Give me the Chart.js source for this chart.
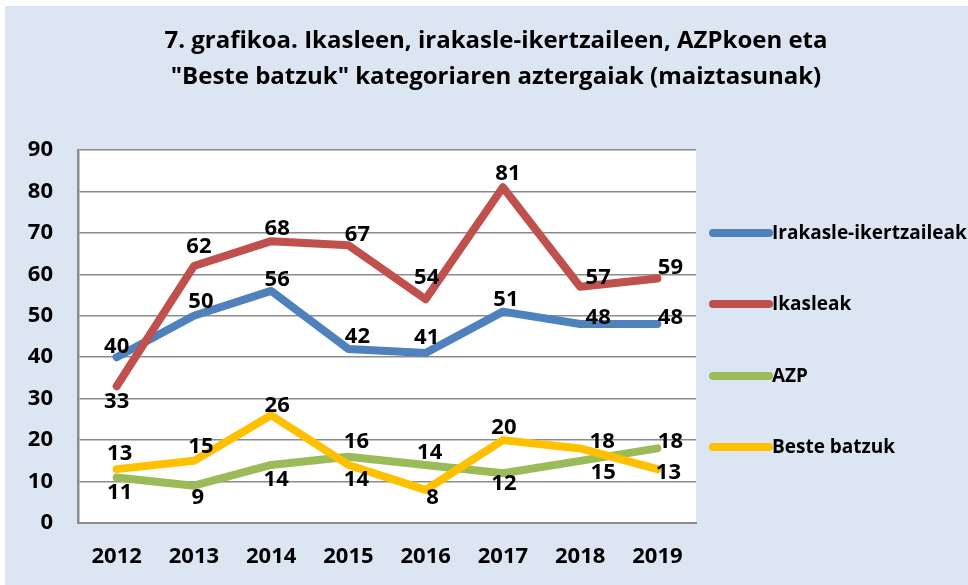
<!DOCTYPE html>
<html>
<head>
<meta charset="utf-8">
<script src="https://cdn.jsdelivr.net/npm/chart.js@4/dist/chart.umd.min.js"></script>
<style>
  html, body { margin: 0; padding: 0; background: #fff; }
  #wrap { width: 968px; height: 585px; position: relative; }
</style>
</head>
<body>
<div id="wrap"><canvas id="c"></canvas></div>
<script>
const years = ["2012","2013","2014","2015","2016","2017","2018","2019"];
const irakasle = [40, 50, 56, 42, 41, 51, 48, 48];
const ikasleak = [33, 62, 68, 67, 54, 81, 57, 59];
const azp = [11, 9, 14, 16, 14, 12, 15, 18];
const besteBatzuk = [13, 15, 26, 14, 8, 20, 18, 13];
const yTicks = [0, 10, 20, 30, 40, 50, 60, 70, 80, 90];

const titleLines = [
  '7. grafikoa. Ikasleen, irakasle-ikertzaileen, AZPkoen eta',
  '"Beste batzuk" kategoriaren aztergaiak (maiztasunak)'
];

// label nudges [dx, dy] per point, from the picture
const labelOffsets = [
  [[0,-10],[7,-14],[6,-11],[9,-12],[1,-15],[3,-12],[18,-6],[13,-6]],
  [[0,16],[5,-19],[6,-12],[9,-11],[1,-21],[5,-14],[18,-9],[13,-11]],
  [[3,15],[4,12],[5,15],[8,-15],[4,-12],[1,10],[23,12],[13,-7]],
  [[3,-15],[7,-14],[6,-10],[8,15],[7,8],[1,-12],[22,-7],[11,4]]
];

const FONT = '"Open Sans", Lato, sans-serif';
const BG = '#dce6f2';
const GRID = '#8c8c8c';

const chartPlugin = {
  id: 'decor',
  beforeDraw(chart) {
    const ctx = chart.ctx;
    const a = chart.chartArea;
    ctx.save();
    ctx.fillStyle = '#fff';
    ctx.fillRect(0, 0, chart.width, chart.height);
    ctx.fillStyle = BG;
    ctx.fillRect(5, 6, chart.width - 5, chart.height - 6);
    ctx.fillStyle = '#fff';
    ctx.fillRect(a.left, a.top, a.right - a.left, a.bottom - a.top);
    // title
    ctx.fillStyle = '#000';
    ctx.font = 'bold 24px ' + FONT;
    ctx.textAlign = 'center';
    ctx.textBaseline = 'alphabetic';
    ctx.fillText(titleLines[0], 496, 48);
    ctx.fillText(titleLines[1], 496, 84);
    ctx.restore();
  },
  afterDatasetsDraw(chart) {
    const ctx = chart.ctx;
    ctx.save();
    ctx.font = 'bold 22px ' + FONT;
    ctx.fillStyle = '#000';
    ctx.textAlign = 'center';
    ctx.textBaseline = 'middle';
    chart.data.datasets.forEach((ds, di) => {
      const meta = chart.getDatasetMeta(di);
      meta.data.forEach((pt, i) => {
        const off = labelOffsets[di][i];
        ctx.fillText(String(ds.data[i]), pt.x + off[0], pt.y + off[1]);
      });
    });
    // legend
    const legendY = [233, 304, 376, 447];
    ctx.textAlign = 'left';
    ctx.font = 'bold 19px ' + FONT;
    chart.data.datasets.forEach((ds, di) => {
      const y = legendY[di];
      ctx.strokeStyle = ds.borderColor;
      ctx.lineWidth = 8;
      ctx.lineCap = 'round';
      ctx.beginPath();
      ctx.moveTo(713, y);
      ctx.lineTo(769, y);
      ctx.stroke();
      ctx.fillStyle = '#000';
      ctx.fillText(ds.label, 772, y + 1);
    });
    ctx.restore();
  }
};

function series(label, data, color, order) {
  return {
    label, data, order,
    borderColor: color,
    backgroundColor: color,
    borderWidth: 8,
    borderCapStyle: 'round',
    borderJoinStyle: 'round',
    pointRadius: 0,
    tension: 0
  };
}

const ctx = document.getElementById('c').getContext('2d');
new Chart(ctx, {
  type: 'line',
  data: {
    labels: years,
    datasets: [
      series('Irakasle-ikertzaileak', irakasle, '#4f81bd', 3),
      series('Ikasleak', ikasleak, '#c0504d', 2),
      series('AZP', azp, '#9bbb59', 1),
      series('Beste batzuk', besteBatzuk, '#ffc000', 0)
    ]
  },
  options: {
    responsive: true,
    maintainAspectRatio: false,
    animation: false,
    layout: { padding: { left: 0, top: 150, right: 272, bottom: 0 } },
    plugins: {
      legend: { display: false },
      title: { display: false },
      tooltip: { enabled: false }
    },
    scales: {
      x: {
        offset: true,
        grid: { display: false, drawTicks: false },
        border: { display: true, color: GRID, width: 2 },
        ticks: { color: '#000', font: { family: FONT, size: 22, weight: 'bold' }, padding: 21, maxRotation: 0 },
        afterFit: s => { s.height = 62; }
      },
      y: {
        min: 0,
        max: 90,
        afterBuildTicks: s => { s.ticks = yTicks.map(v => ({ value: v })); },
        grid: { color: GRID, lineWidth: 1.5, drawTicks: false },
        border: { display: true, color: GRID, width: 2.5 },
        ticks: { color: '#000', font: { family: FONT, size: 22, weight: 'bold' }, padding: 25 },
        afterFit: s => { s.width = 78; }
      }
    }
  },
  plugins: [chartPlugin]
});
</script>
</body>
</html>
